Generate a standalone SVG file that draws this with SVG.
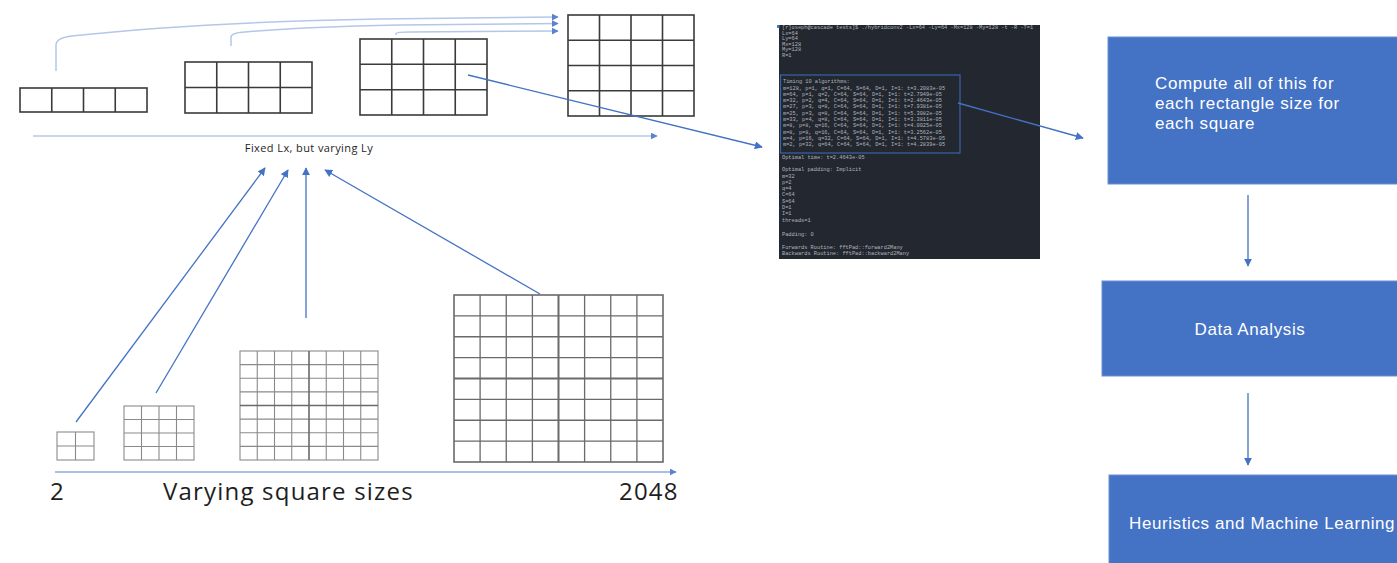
<svg xmlns="http://www.w3.org/2000/svg" width="1397" height="563" viewBox="0 0 1397 563">
<defs>
<marker id="ab" viewBox="0 0 10 10" refX="9" refY="5" markerWidth="8" markerHeight="8" markerUnits="userSpaceOnUse" orient="auto"><path d="M0,0 L10,5 L0,10 z" fill="#4472c4"/></marker>
<marker id="al" viewBox="0 0 10 10" refX="9" refY="5" markerWidth="7" markerHeight="7" markerUnits="userSpaceOnUse" orient="auto"><path d="M0,0 L10,5 L0,10 z" fill="#5b82cc"/></marker>
</defs>
<style>
.g1{fill:none;stroke:#3a3a3a;stroke-width:1.6}
.g2{fill:none;stroke:#8a8a8a;stroke-width:1.1}
.g2t{fill:none;stroke:#6a6a6a;stroke-width:1.6}
.lb{fill:none;stroke:#b4c7e7;stroke-width:1.5}
.db{fill:none;stroke:#4472c4;stroke-width:1.3}
.box{fill:#4472c4;stroke:#6b8fd1;stroke-width:1}
.bt{font-family:"Liberation Sans",Arial,sans-serif;fill:#ffffff;font-size:17px;letter-spacing:0.6px}
.tt{font-family:"Liberation Mono",monospace;fill:#c9ccd2;font-size:5.3px;opacity:0.85}
.lab{font-family:"Open Sans","Noto Sans",sans-serif;fill:#1e1e1e}
</style>
<rect width="1397" height="563" fill="#ffffff"/>

<g id="rect-4x1"><rect x="20" y="88" width="127" height="24" class="g1"/><path d="M51.75,88V112M83.5,88V112M115.25,88V112" class="g1"/></g>
<g id="rect-4x2"><rect x="185" y="62" width="127" height="51" class="g1"/><path d="M216.75,62V113M248.5,62V113M280.25,62V113M185,87.5H312" class="g1"/></g>
<g id="rect-4x3"><rect x="360" y="39" width="127" height="76" class="g1"/><path d="M391.75,39V115M423.5,39V115M455.25,39V115M360,64.3H487M360,89.7H487" class="g1"/></g>
<g id="rect-4x4"><rect x="568" y="15" width="126" height="101" class="g1"/><path d="M599.5,15V116M631,15V116M662.5,15V116M568,40.25H694M568,65.5H694M568,90.75H694" class="g1"/></g>

<g id="label-fixed"><text x="309" y="152" text-anchor="middle" class="lab" font-size="11" letter-spacing="0.4" fill="#333333">Fixed Lx, but varying Ly</text></g>

<g id="sq-2"><rect x="57" y="432" width="37" height="28" class="g2"/><path d="M75.5,432V460M57,446H94" class="g2"/></g>
<g id="sq-4"><rect x="124" y="406" width="70" height="54" class="g2"/><path d="M141.5,406V460M159,406V460M176.5,406V460M124,419.5H194M124,433H194M124,446.5H194" class="g2"/></g>
<g id="sq-8"><rect x="240" y="351" width="138" height="109" class="g2"/><path d="M257.25,351V460M274.5,351V460M291.75,351V460M326.25,351V460M343.5,351V460M360.75,351V460M240,364.6H378M240,378.25H378M240,391.9H378M240,419.1H378M240,432.75H378M240,446.4H378" class="g2"/><path d="M309,351V460M240,405.5H378" class="g2t"/></g>
<g id="sq-2048"><rect x="454" y="295" width="209" height="167" class="g2t"/><path d="M480.1,295V462M506.25,295V462M532.4,295V462M584.6,295V462M610.75,295V462M636.9,295V462M454,315.9H663M454,336.75H663M454,357.6H663M454,399.4H663M454,420.25H663M454,441.1H663" class="g2t" style="stroke-width:1.3"/><path d="M558.5,295V462M454,378.5H663" class="g2t" style="stroke-width:2"/></g>

<g id="labels-bottom">
<text x="50" y="500" class="lab" font-size="24" letter-spacing="1.2">2</text>
<text x="163" y="500" class="lab" font-size="24" letter-spacing="1.2">Varying square sizes</text>
<text x="619" y="500" class="lab" font-size="24" letter-spacing="1.2">2048</text>
</g>

<g id="terminal">
<rect x="779" y="25" width="261" height="234" fill="#23272f"/>
<rect x="777" y="25" width="2.5" height="3" fill="#3d7bd6"/>
<rect x="780.5" y="75" width="179.5" height="78" fill="none" stroke="#3a64a8" stroke-width="1.2"/>
<text class="tt" x="782" y="29">[r]oseph@cascade tests]$ ./hybridconv2 -Lx=64 -Ly=64 -Mx=128 -My=128 -t -R -T=1</text>
<text class="tt" x="782" y="34.5">Lx=64</text>
<text class="tt" x="782" y="40">Ly=64</text>
<text class="tt" x="782" y="45.5">Mx=128</text>
<text class="tt" x="782" y="51">My=128</text>
<text class="tt" x="782" y="57">R=1</text>
<text class="tt" x="783" y="83">Timing 10 algorithms:</text>
<text class="tt" x="783" y="89.5">m=128, p=1, q=1, C=64, S=64, D=1, I=1: t=3.2083e-05</text>
<text class="tt" x="783" y="95.8">m=64, p=1, q=2, C=64, S=64, D=1, I=1: t=2.7949e-05</text>
<text class="tt" x="783" y="102.1">m=32, p=2, q=4, C=64, S=64, D=1, I=1: t=2.4643e-05</text>
<text class="tt" x="783" y="108.4">m=27, p=3, q=8, C=64, S=64, D=1, I=1: t=7.9381e-05</text>
<text class="tt" x="783" y="114.7">m=25, p=3, q=8, C=64, S=64, D=1, I=1: t=5.3082e-05</text>
<text class="tt" x="783" y="121">m=33, p=4, q=8, C=64, S=64, D=1, I=1: t=3.3811e-05</text>
<text class="tt" x="783" y="127.3">m=8, p=8, q=16, C=64, S=64, D=1, I=1: t=4.0025e-05</text>
<text class="tt" x="783" y="133.6">m=8, p=8, q=16, C=64, S=64, D=1, I=1: t=3.2562e-05</text>
<text class="tt" x="783" y="139.9">m=4, p=16, q=32, C=64, S=64, D=1, I=1: t=4.5783e-05</text>
<text class="tt" x="783" y="146.2">m=2, p=32, q=64, C=64, S=64, D=1, I=1: t=4.2839e-05</text>
<text class="tt" x="782" y="159">Optimal time: t=2.4643e-05</text>
<text class="tt" x="782" y="171">Optimal padding: Implicit</text>
<text class="tt" x="782" y="177.5">m=32</text>
<text class="tt" x="782" y="183.5">p=2</text>
<text class="tt" x="782" y="189.5">q=4</text>
<text class="tt" x="782" y="196">C=64</text>
<text class="tt" x="782" y="202.5">S=64</text>
<text class="tt" x="782" y="209">D=1</text>
<text class="tt" x="782" y="215">I=1</text>
<text class="tt" x="782" y="222">threads=1</text>
<text class="tt" x="782" y="235.5">Padding: 0</text>
<text class="tt" x="782" y="248.5">Forwards Routine: fftPad::forward2Many</text>
<text class="tt" x="782" y="254.5">Backwards Routine: fftPad::backward2Many</text>
</g>

<g id="box-compute"><rect x="1108" y="37" width="300" height="147" class="box"/>
<text class="bt" x="1155" y="89">Compute  all of this for</text>
<text class="bt" x="1155" y="109">each rectangle size for</text>
<text class="bt" x="1155" y="129">each square</text></g>
<g id="box-data"><rect x="1102" y="281" width="300" height="95" class="box"/>
<text class="bt" x="1250" y="335" text-anchor="middle">Data Analysis</text></g>
<g id="box-heur"><rect x="1109" y="475" width="300" height="100" class="box"/>
<text class="bt" x="1129" y="529">Heuristics and Machine  Learning</text></g>

<g id="connectors">
<path d="M56,71 V45 Q56,38 72,36 Q200,22 380,19 L558,17" class="lb" marker-end="url(#al)"/>
<path d="M231,46 V37 Q231,33 245,32 Q300,27 400,25 L558,23.5" class="lb" marker-end="url(#al)"/>
<path d="M396,35 V33.5 Q396,32 410,32 L558,31" class="lb" marker-end="url(#al)"/>
<path d="M33,136 H657" class="lb" marker-end="url(#al)"/>
<path d="M55,472 H676" class="lb" style="stroke:#8faadc" marker-end="url(#al)"/>
<path d="M468,75 L762,147" class="db" marker-end="url(#ab)"/>
<path d="M958,103 L1083,138" class="db" marker-end="url(#ab)"/>
<path d="M76,422 L265,168" class="db" marker-end="url(#ab)"/>
<path d="M156,393 L288,170" class="db" marker-end="url(#ab)"/>
<path d="M306,318 V168" class="db" marker-end="url(#ab)"/>
<path d="M540,294 L325,170" class="db" marker-end="url(#ab)"/>
<path d="M1248,195 V266" class="db" marker-end="url(#ab)"/>
<path d="M1248,393 V465" class="db" marker-end="url(#ab)"/>
</g>
</svg>
